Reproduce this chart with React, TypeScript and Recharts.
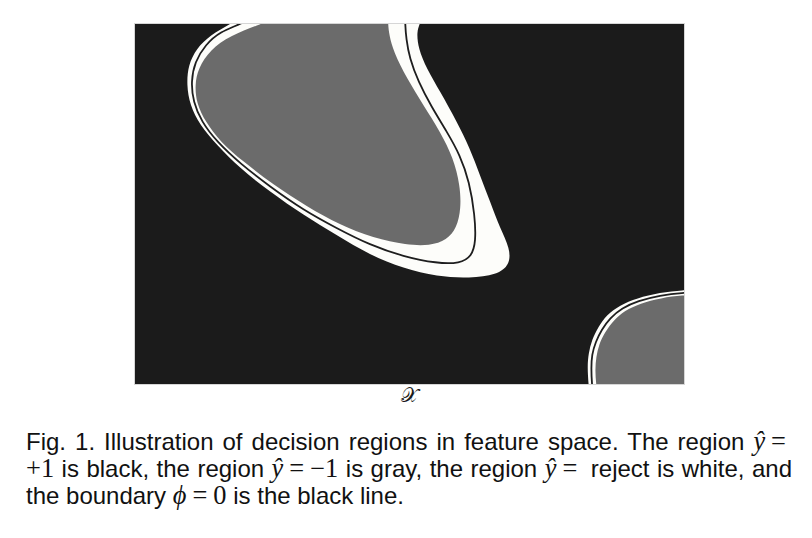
import React from "react";
import { ScatterChart, Scatter, XAxis, YAxis } from "recharts";

// region outlines in feature space (x, y both 0..100); points past the frame get clipped
const rejectOuter = [
  [17.3, 100], [13.7, 96.9], [11.2, 93.2], [9.7, 88.6], [9.4, 83.1], [10.0, 77.5],
  [11.8, 71.9], [14.9, 66.4], [19.1, 59.9], [24.6, 53.4], [30.7, 46.9], [36.7, 41.4],
  [42.8, 35.8], [48.9, 32.1], [55.0, 29.8], [61.0, 29.4], [65.9, 30.3], [68.3, 33.1],
  [68.3, 37.7], [66.5, 43.2], [64.7, 50.6], [62.8, 58.1], [61.0, 65.5], [58.6, 72.9],
  [55.6, 81.2], [53.1, 87.7], [51.6, 93.2], [51.3, 97.9], [51.9, 100], [52.6, 104],
  [53.5, 112], [22, 112], [20.5, 102.8],
];

const boundary = [
  [19.4, 100], [15.5, 97.9], [12.8, 94.2], [10.9, 89.5], [10.2, 84.0], [10.6, 78.4],
  [12.1, 72.9], [14.9, 67.3], [19.1, 61.3], [24.6, 54.8], [30.7, 48.3], [36.7, 43.3],
  [42.8, 38.6], [48.9, 35.4], [55.0, 33.5], [59.2, 33.5], [61.3, 35.4], [62.1, 39.5],
  [61.9, 46.9], [60.9, 56.2], [59.2, 63.6], [56.8, 70.1], [54.0, 77.0], [51.6, 84.0],
  [50.0, 90.5], [49.4, 96.0], [49.2, 100], [49.2, 104], [49.4, 112], [24, 112], [22.5, 103],
];

const negRegion = [
  [23.1, 100], [17.3, 96.8], [13.7, 92.8], [11.5, 87.7], [10.9, 83.1], [11.2, 78.0],
  [12.8, 72.9], [15.5, 67.3], [19.7, 61.8], [25.2, 55.3], [31.3, 49.3], [37.3, 44.2],
  [43.4, 40.5], [49.5, 38.6], [53.7, 38.4], [56.8, 40.0], [58.6, 43.3], [59.4, 48.8],
  [59.2, 55.3], [58.0, 62.7], [55.6, 70.1], [52.5, 77.5], [49.5, 84.9], [47.1, 92.3],
  [46.3, 96.9], [46.1, 100], [46.0, 104], [46.0, 112], [29, 112], [26.5, 102.5],
];

const cornerOuter = [
  [106.6, 26.3], [102.9, 26.2], [99.9, 26.1], [95.6, 25.4], [91.4, 23.8], [88.3, 21.9],
  [85.9, 19.2], [84.4, 15.9], [83.2, 12.2], [82.6, 8.5], [82.4, 4.8], [82.6, 0],
  [82.9, -4.4], [83.8, -10], [106.6, -10],
];

const cornerBoundary = [
  [106.6, 25.4], [102.9, 25.4], [99.8, 25.4], [95.6, 24.6], [91.6, 23.1], [88.7, 21.1],
  [86.5, 18.3], [85.0, 15.1], [83.9, 11.7], [83.2, 8.1], [83.1, 4.4], [83.2, 0],
  [83.6, -4.4], [84.5, -10], [106.6, -10],
];

const cornerNeg = [
  [106.6, 24.7], [102.9, 24.7], [99.8, 24.7], [95.8, 23.9], [92.0, 22.4], [89.2, 20.4],
  [87.1, 17.6], [85.6, 14.4], [84.5, 11.0], [84.0, 7.5], [83.8, 3.9], [84.0, 0],
  [84.3, -4.4], [85.2, -10], [106.6, -10],
];

const BLACK = "#1b1b1b";
const GRAY = "#6b6b6b";
const WHITE = "#fdfdfa";
const LINE = "#1e1e1e";

const pts = (a: number[][]) => a.map(([x, y]) => ({ x, y }));
const NoDot = () => <g />;

const SANS = '"Liberation Sans", Arial, Helvetica, sans-serif';
const SERIF = '"Liberation Serif", "DejaVu Serif", serif';

const mathBase: React.CSSProperties = { fontFamily: SERIF, fontSize: "1.1em", lineHeight: 0 };
const Mi = ({ children }: { children: React.ReactNode }) => (
  <span style={{ ...mathBase, fontStyle: "italic" }}>{children}</span>
);
const Mr = ({ children }: { children: React.ReactNode }) => <span style={mathBase}>{children}</span>;
const Eq = () => <span style={{ ...mathBase, margin: "0 6px" }}>=</span>;

export default function App() {
  const lineStyle: React.CSSProperties = {
    whiteSpace: "nowrap",
    textAlign: "justify",
    textAlignLast: "justify",
  };
  return (
    <div style={{ position: "absolute", left: 0, top: 0, width: 812, height: 538, background: "#fff" }}>
      <div
        style={{
          position: "absolute",
          left: 135,
          top: 24,
          width: 549,
          height: 360,
          background: BLACK,
          boxShadow: "0 0 0 1px #d6d6d6",
        }}
      >
        <ScatterChart width={549} height={360} margin={{ top: 0, right: 0, bottom: 0, left: 0 }}>
          <XAxis type="number" dataKey="x" domain={[0, 100]} hide allowDataOverflow />
          <YAxis type="number" dataKey="y" domain={[0, 100]} hide allowDataOverflow />
          <Scatter data={pts(rejectOuter)} shape={NoDot} line={{ fill: WHITE, stroke: "none" }} lineJointType="basisClosed" isAnimationActive={false} />
          <Scatter data={pts(boundary)} shape={NoDot} line={{ fill: "none", stroke: LINE, strokeWidth: 1.8 }} lineJointType="basisClosed" isAnimationActive={false} />
          <Scatter data={pts(negRegion)} shape={NoDot} line={{ fill: GRAY, stroke: "none" }} lineJointType="basisClosed" isAnimationActive={false} />
          <Scatter data={pts(cornerOuter)} shape={NoDot} line={{ fill: WHITE, stroke: "none" }} lineJointType="basisClosed" isAnimationActive={false} />
          <Scatter data={pts(cornerBoundary)} shape={NoDot} line={{ fill: "none", stroke: LINE, strokeWidth: 1.8 }} lineJointType="basisClosed" isAnimationActive={false} />
          <Scatter data={pts(cornerNeg)} shape={NoDot} line={{ fill: GRAY, stroke: "none" }} lineJointType="basisClosed" isAnimationActive={false} />
        </ScatterChart>
      </div>

      <div
        style={{
          position: "absolute",
          left: 135,
          top: 383,
          width: 549,
          textAlign: "center",
          fontFamily: SERIF,
          fontSize: 20,
          lineHeight: "24px",
          color: "#1a1a1a",
        }}
      >
        𝒳
      </div>

      <div
        style={{
          position: "absolute",
          left: 26,
          top: 427.7,
          width: 766,
          fontFamily: SANS,
          fontSize: 24,
          lineHeight: "27px",
          color: "#111",
        }}
      >
        <div style={lineStyle}>
          Fig. 1. Illustration of decision regions in feature space. The region <Mi>ŷ</Mi><Eq />
        </div>
        <div style={lineStyle}>
          <Mr>+1</Mr> is black, the region <Mi>ŷ</Mi><Eq /><Mr>−1</Mr> is gray, the region <Mi>ŷ</Mi><Eq /> reject is white, and
        </div>
        <div style={{ whiteSpace: "nowrap" }}>
          the boundary <Mi>ϕ</Mi><Eq /><Mr>0</Mr> is the black line.
        </div>
      </div>
    </div>
  );
}
